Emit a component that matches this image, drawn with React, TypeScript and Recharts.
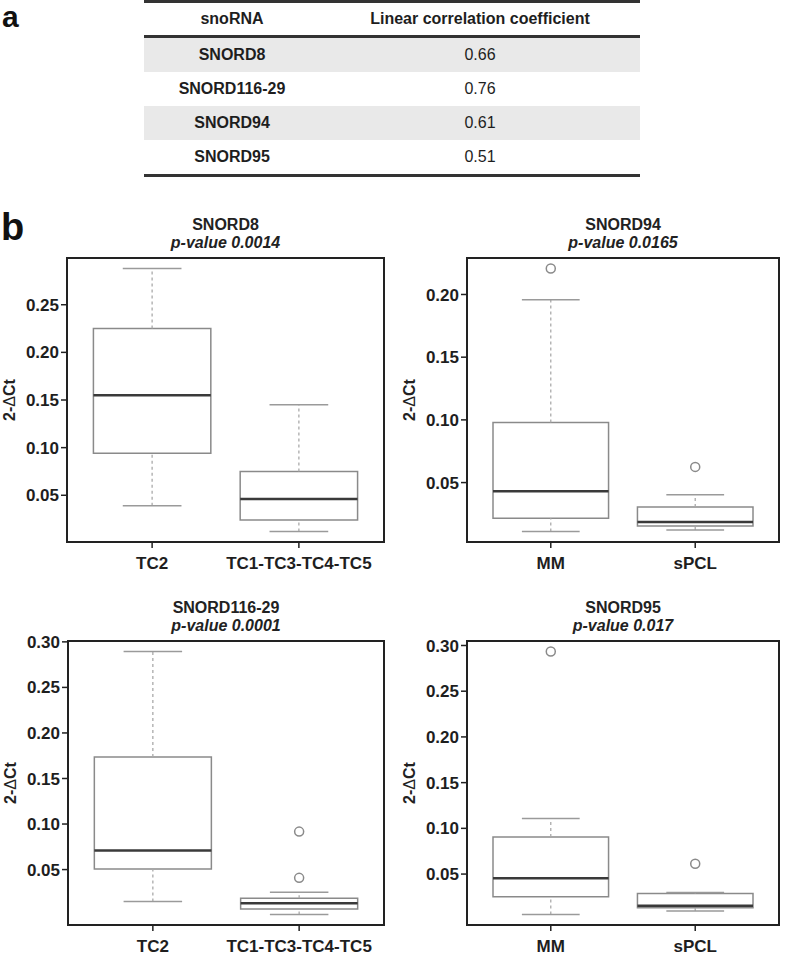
import { ComposedChart, XAxis, YAxis, Scatter, ReferenceArea, ReferenceLine } from 'recharts'

const FONT = "'Liberation Sans', Arial, Helvetica, sans-serif"

// panel a: table
const snoRNAs = ['SNORD8', 'SNORD116-29', 'SNORD94', 'SNORD95']
const coefficients = ['0.66', '0.76', '0.61', '0.51']

// panel b: groups
const tcGroups = ['TC2', 'TC1-TC3-TC4-TC5']
const mmGroups = ['MM', 'sPCL']

// SNORD8
const snord8Low = [0.039, 0.012]
const snord8Q1 = [0.094, 0.024]
const snord8Median = [0.155, 0.046]
const snord8Q3 = [0.225, 0.075]
const snord8High = [0.288, 0.145]
const snord8Outliers: number[][] = [[], []]

// SNORD94
const snord94Low = [0.011, 0.0122]
const snord94Q1 = [0.0215, 0.0154]
const snord94Median = [0.043, 0.0186]
const snord94Q3 = [0.098, 0.0306]
const snord94High = [0.1957, 0.0402]
const snord94Outliers = [[0.2207], [0.0625]]

// SNORD116-29
const snord116Low = [0.0149, 0.0007]
const snord116Q1 = [0.0505, 0.0068]
const snord116Median = [0.0709, 0.013]
const snord116Q3 = [0.1736, 0.0186]
const snord116High = [0.2894, 0.025]
const snord116Outliers = [[], [0.0917, 0.0409]]

// SNORD95
const snord95Low = [0.0058, 0.0095]
const snord95Q1 = [0.0251, 0.0131]
const snord95Median = [0.0453, 0.0153]
const snord95Q3 = [0.0906, 0.0287]
const snord95High = [0.1107, 0.0298]
const snord95Outliers = [[0.2934], [0.0612]]

const ticks8 = [0.05, 0.1, 0.15, 0.2, 0.25]
const ticks94 = [0.05, 0.1, 0.15, 0.2]
const ticksBottom = [0.05, 0.1, 0.15, 0.2, 0.25, 0.3]

const PANEL_W = 392
const PANEL_H = 385
const PLOT_TOP = 68
const X_AXIS_H = 33

const tickStyle = { fill: '#1e1e1e', fontSize: 17, fontWeight: 700, fontFamily: FONT }

function Outlier(props: any) {
  return <circle cx={props.cx} cy={props.cy} r={4.5} fill="#fff" stroke="#8a8a8a" strokeWidth={1.5} />
}

interface BoxPanelProps {
  title: string
  pValue: string
  groups: string[]
  low: number[]
  q1: number[]
  median: number[]
  q3: number[]
  high: number[]
  outliers: number[][]
  yTicks: number[]
  left: number
  top: number
  axisWidth: number
  rightPad: number
}

function BoxPanel(p: BoxPanelProps) {
  // R-style axis limits: data range widened by 4% on each side
  const all = [...p.low, ...p.high, ...p.outliers.flat()]
  const lo = Math.min(...all)
  const hi = Math.max(...all)
  const yDomain = [lo - (hi - lo) * 0.04, hi + (hi - lo) * 0.04]
  const xLo = 0.5
  const xHi = p.groups.length + 0.5
  const xDomain = [xLo - (xHi - xLo) * 0.04, xHi + (xHi - xLo) * 0.04]
  const points = p.outliers.flatMap((list, i) => list.map((v) => ({ x: i + 1, y: v })))
  const plotW = PANEL_W - p.axisWidth - p.rightPad
  const plotH = PANEL_H - PLOT_TOP - X_AXIS_H

  const marks = p.groups.flatMap((g, i) => {
    const x = i + 1
    return [
      <ReferenceLine key={g + 'wu'} segment={[{ x, y: p.q3[i] }, { x, y: p.high[i] }]} stroke="#aaaaaa" strokeWidth={1.3} strokeDasharray="3 3" ifOverflow="visible" />,
      <ReferenceLine key={g + 'wl'} segment={[{ x, y: p.low[i] }, { x, y: p.q1[i] }]} stroke="#aaaaaa" strokeWidth={1.3} strokeDasharray="3 3" ifOverflow="visible" />,
      <ReferenceLine key={g + 'cu'} segment={[{ x: x - 0.2, y: p.high[i] }, { x: x + 0.2, y: p.high[i] }]} stroke="#9a9a9a" strokeWidth={1.5} ifOverflow="visible" />,
      <ReferenceLine key={g + 'cl'} segment={[{ x: x - 0.2, y: p.low[i] }, { x: x + 0.2, y: p.low[i] }]} stroke="#9a9a9a" strokeWidth={1.5} ifOverflow="visible" />,
      <ReferenceArea key={g + 'box'} x1={x - 0.4} x2={x + 0.4} y1={p.q1[i]} y2={p.q3[i]} fill="#fff" fillOpacity={1} stroke="#8a8a8a" strokeWidth={1.5} ifOverflow="visible" />,
      <ReferenceLine key={g + 'med'} segment={[{ x: x - 0.4, y: p.median[i] }, { x: x + 0.4, y: p.median[i] }]} stroke="#3a3a3a" strokeWidth={2.5} ifOverflow="visible" />,
    ]
  })

  return (
    <div style={{ position: 'absolute', left: p.left, top: p.top, width: PANEL_W, height: PANEL_H }}>
      <div
        style={{
          position: 'absolute',
          left: p.axisWidth,
          width: plotW,
          top: PLOT_TOP - 42,
          textAlign: 'center',
          fontFamily: FONT,
          fontWeight: 700,
          fontSize: 16,
          lineHeight: '18px',
          color: '#222',
        }}
      >
        <div>{p.title}</div>
        <div style={{ fontStyle: 'italic' }}>{p.pValue}</div>
      </div>
      <div
        style={{
          position: 'absolute',
          left: p.axisWidth - 57,
          top: PLOT_TOP + plotH / 2,
          transform: 'translate(-50%, -50%) rotate(-90deg)',
          whiteSpace: 'nowrap',
          fontFamily: FONT,
          fontWeight: 700,
          fontSize: 16,
          color: '#222',
        }}
      >
        2-<span style={{ fontWeight: 400 }}>Δ</span>Ct
      </div>
      <ComposedChart width={PANEL_W} height={PANEL_H} margin={{ top: PLOT_TOP, right: p.rightPad, bottom: 0, left: 0 }}>
        <XAxis
          type="number"
          dataKey="x"
          domain={xDomain}
          allowDataOverflow
          ticks={p.groups.map((_, i) => i + 1)}
          tickFormatter={(v: number) => p.groups[v - 1] ?? ''}
          axisLine={false}
          tickLine={{ stroke: '#222', strokeWidth: 1.5 }}
          tickSize={6}
          tickMargin={9}
          height={X_AXIS_H}
          tick={tickStyle}
          interval={0}
        />
        <YAxis
          type="number"
          dataKey="y"
          domain={yDomain}
          allowDataOverflow
          ticks={p.yTicks}
          tickFormatter={(v: number) => v.toFixed(2)}
          axisLine={false}
          tickLine={{ stroke: '#222', strokeWidth: 1.5 }}
          tickSize={6}
          tickMargin={2}
          width={p.axisWidth}
          tick={tickStyle}
          interval={0}
        />
        {marks}
        <ReferenceArea x1={xDomain[0]} x2={xDomain[1]} y1={yDomain[0]} y2={yDomain[1]} fill="none" fillOpacity={0} stroke="#222" strokeWidth={2} ifOverflow="visible" />
        <Scatter data={points} shape={Outlier} isAnimationActive={false} />
      </ComposedChart>
    </div>
  )
}

function CorrelationTable() {
  const rule = { height: 3, background: '#333' }
  const cell = (w: number, bold: boolean) => ({
    width: w,
    textAlign: 'center' as const,
    fontWeight: bold ? 700 : 400,
  })
  return (
    <div style={{ position: 'absolute', left: 144, top: 0, width: 496, fontFamily: FONT, fontSize: 16, color: '#1e1e1e' }}>
      <div style={rule} />
      <div style={{ display: 'flex', height: 32, alignItems: 'center' }}>
        <div style={cell(176, true)}>snoRNA</div>
        <div style={cell(320, true)}>Linear correlation coefficient</div>
      </div>
      <div style={rule} />
      {snoRNAs.map((name, i) => (
        <div key={name} style={{ display: 'flex', height: 34, alignItems: 'center', background: i % 2 === 0 ? '#e9e9e9' : '#fff' }}>
          <div style={cell(176, true)}>{name}</div>
          <div style={cell(320, false)}>{coefficients[i]}</div>
        </div>
      ))}
      <div style={rule} />
    </div>
  )
}

export default function App() {
  const letter = { position: 'absolute' as const, fontFamily: FONT, fontWeight: 700, color: '#111' }
  return (
    <div style={{ position: 'absolute', left: 0, top: 0, width: 785, height: 956, background: '#fff' }}>
      <div style={{ ...letter, left: 2, top: 0, fontSize: 30, lineHeight: 'normal' }}>a</div>
      <CorrelationTable />
      <div style={{ ...letter, left: 1, top: 208, fontSize: 38, lineHeight: '38px' }}>b</div>
      <BoxPanel
        title="SNORD8" pValue="p-value 0.0014" groups={tcGroups}
        low={snord8Low} q1={snord8Q1} median={snord8Median} q3={snord8Q3} high={snord8High} outliers={snord8Outliers}
        yTicks={ticks8} left={0} top={190} axisWidth={67} rightPad={8}
      />
      <BoxPanel
        title="SNORD94" pValue="p-value 0.0165" groups={mmGroups}
        low={snord94Low} q1={snord94Q1} median={snord94Median} q3={snord94Q3} high={snord94High} outliers={snord94Outliers}
        yTicks={ticks94} left={392} top={190} axisWidth={75} rightPad={5}
      />
      <BoxPanel
        title="SNORD116-29" pValue="p-value 0.0001" groups={tcGroups}
        low={snord116Low} q1={snord116Q1} median={snord116Median} q3={snord116Q3} high={snord116High} outliers={snord116Outliers}
        yTicks={ticksBottom} left={0} top={573} axisWidth={68} rightPad={8}
      />
      <BoxPanel
        title="SNORD95" pValue="p-value 0.017" groups={mmGroups}
        low={snord95Low} q1={snord95Q1} median={snord95Median} q3={snord95Q3} high={snord95High} outliers={snord95Outliers}
        yTicks={ticksBottom} left={392} top={573} axisWidth={75} rightPad={5}
      />
    </div>
  )
}
